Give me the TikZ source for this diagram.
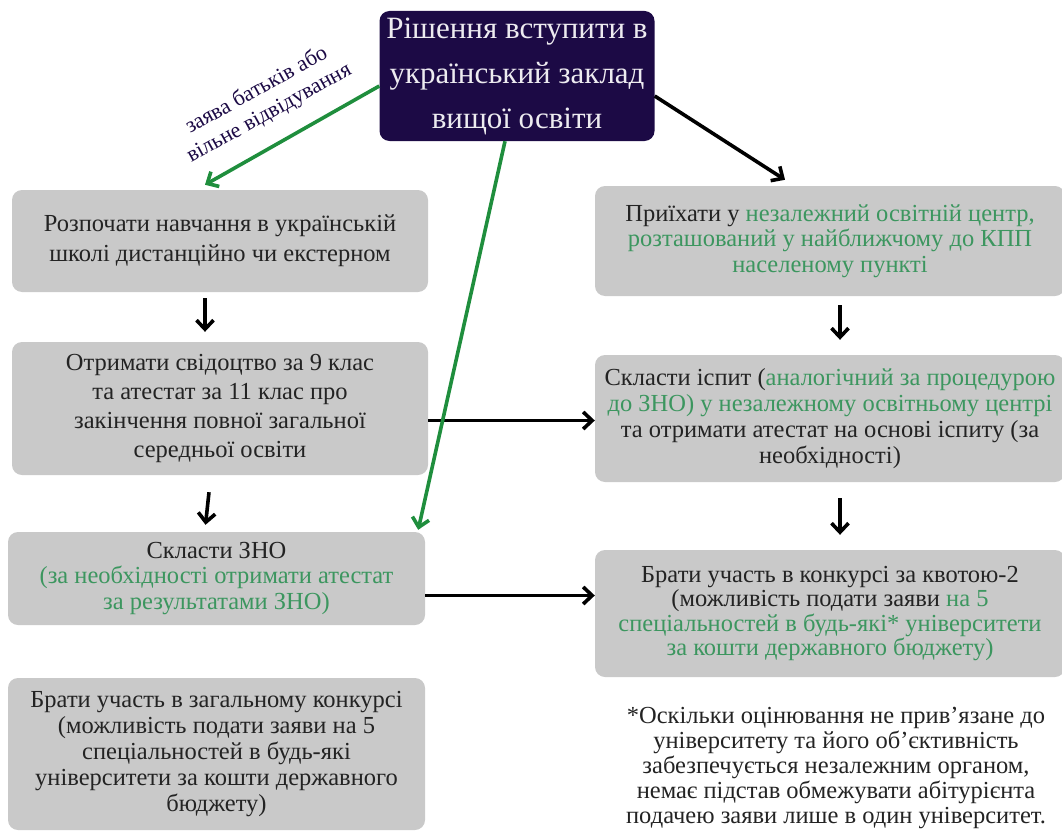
\documentclass[tikz,border=0pt]{standalone}
\usepackage{fontspec}
\setmainfont{Liberation Serif}
\usetikzlibrary{arrows.meta}
\definecolor{boxgray}{RGB}{201,201,201}
\definecolor{navy}{RGB}{28,10,69}
\definecolor{grn}{RGB}{60,150,95}
\definecolor{arrgrn}{RGB}{31,142,61}
\definecolor{txt}{RGB}{35,35,35}
\newcommand{\fs}[1]{\fontsize{24.5}{#1}\selectfont}
\tikzset{
  gbox/.style={fill=boxgray, rounded corners=10pt, align=center, inner sep=0pt,
    text=txt, font=\fs{26}},
  topbox/.style={fill=navy, rounded corners=10pt, align=center, inner sep=0pt,
    text=white!92!navy, font=\fontsize{31}{45}\selectfont,
    minimum width=275pt, minimum height=130pt},
  barr/.style={draw=black, line width=3.6pt, -{Straight Barb[length=9pt,width=17pt,line width=3.6pt]}},
  garr/.style={draw=arrgrn, line width=3.6pt, -{Straight Barb[length=9pt,width=17pt,line width=3.6pt]}},
}
\begin{document}
\begin{tikzpicture}[x=1pt,y=-1pt]
\useasboundingbox (0,0) rectangle (1062,832);

\node[topbox] (top) at (517,76) {Рішення вступити в\\український заклад\\вищої освіти};

\node[gbox, font=\fs{30}, minimum width=416pt, minimum height=102pt] (l1) at (220,241)
  {Розпочати навчання в українській\\школі дистанційно чи екстерном};
\node[gbox, font=\fs{29}, minimum width=416pt, minimum height=133pt] (l2) at (220,408.5)
  {Отримати свідоцтво за 9 клас\\та атестат за 11 клас про\\закінчення повної загальної\\середньої освіти};
\node[gbox, font=\fs{25.5}, minimum width=417pt, minimum height=93pt] (l3) at (216.5,578.5)
  {Скласти ЗНО\\\textcolor{grn}{(за необхідності отримати атестат}\\\textcolor{grn}{за результатами ЗНО)}};
\node[gbox, font=\fs{26}, minimum width=417pt, minimum height=152pt] (l4) at (216.5,754)
  {Брати участь в загальному конкурсі\\(можливість подати заяви на 5\\спеціальностей в будь-які\\університети за кошти державного\\бюджету)};

\node[gbox, font=\fs{25.5}, minimum width=470pt, minimum height=110pt] (r1) at (830,241)
  {Приїхати у \textcolor{grn}{незалежний освітній центр,}\\\textcolor{grn}{розташований у найближчому до КПП}\\\textcolor{grn}{населеному пункті}};
\node[gbox, font=\fs{26}, minimum width=470pt, minimum height=127pt] (r2) at (830,418.5)
  {Скласти іспит (\textcolor{grn}{аналогічний за процедурою}\\\textcolor{grn}{до ЗНО) у незалежному освітньому центрі}\\та отримати атестат на основі іспиту (за\\необхідності)};
\node[gbox, font=\fs{24.5}, minimum width=470pt, minimum height=127pt] (r3) at (830,613.5)
  {Брати участь в конкурсі за квотою-2\\(можливість подати заяви \textcolor{grn}{на 5}\\\textcolor{grn}{спеціальностей в будь-які* університети}\\\textcolor{grn}{за кошти державного бюджету)}};

\node[align=center, text=txt, font=\fs{25}] (note) at (836,768)
  {*Оскільки оцінювання не прив'язане до\\університету та його об'єктивність\\забезпечується незалежним органом,\\немає підстав обмежувати абітурієнта\\подачею заяви лише в один університет.};

\node[rotate=29, align=center, text=navy, font=\fontsize{22}{26}\selectfont] (lbl) at (263,102)
  {заява батьків або\\вільне відвідування};

% connectors
\draw[barr] ([xshift=-15pt,yshift=-6pt]l1.south) -- ([xshift=-15pt,yshift=10pt]l2.north);
\draw[barr] ([xshift=-11pt,yshift=-17pt]l2.south) -- ([xshift=-11pt,yshift=7pt]l3.north);
\draw[barr] ([xshift=10pt,yshift=-9pt]r1.south) -- ([xshift=10pt,yshift=15pt]r2.north);
\draw[barr] ([xshift=10pt,yshift=-16pt]r2.south) -- ([xshift=10pt,yshift=15pt]r3.north);

\coordinate (h1) at ([yshift=-12pt]l2.east);
\draw[barr] (h1) -- (h1 -| r2.west);
\coordinate (h2) at ([yshift=-17pt]l3.east);
\draw[barr] (h2) -- (h2 -| r3.west);

\draw[barr] ([yshift=-20pt]top.east) -- ([xshift=-45pt,yshift=6pt]r1.north);
\draw[garr] ([yshift=-10pt]top.west) -- ([xshift=-15pt,yshift=5pt]l1.north);
\draw[garr] ([xshift=-12pt]top.south) -- ([xshift=-7pt,yshift=2pt]l3.north east);
\end{tikzpicture}
\end{document}
